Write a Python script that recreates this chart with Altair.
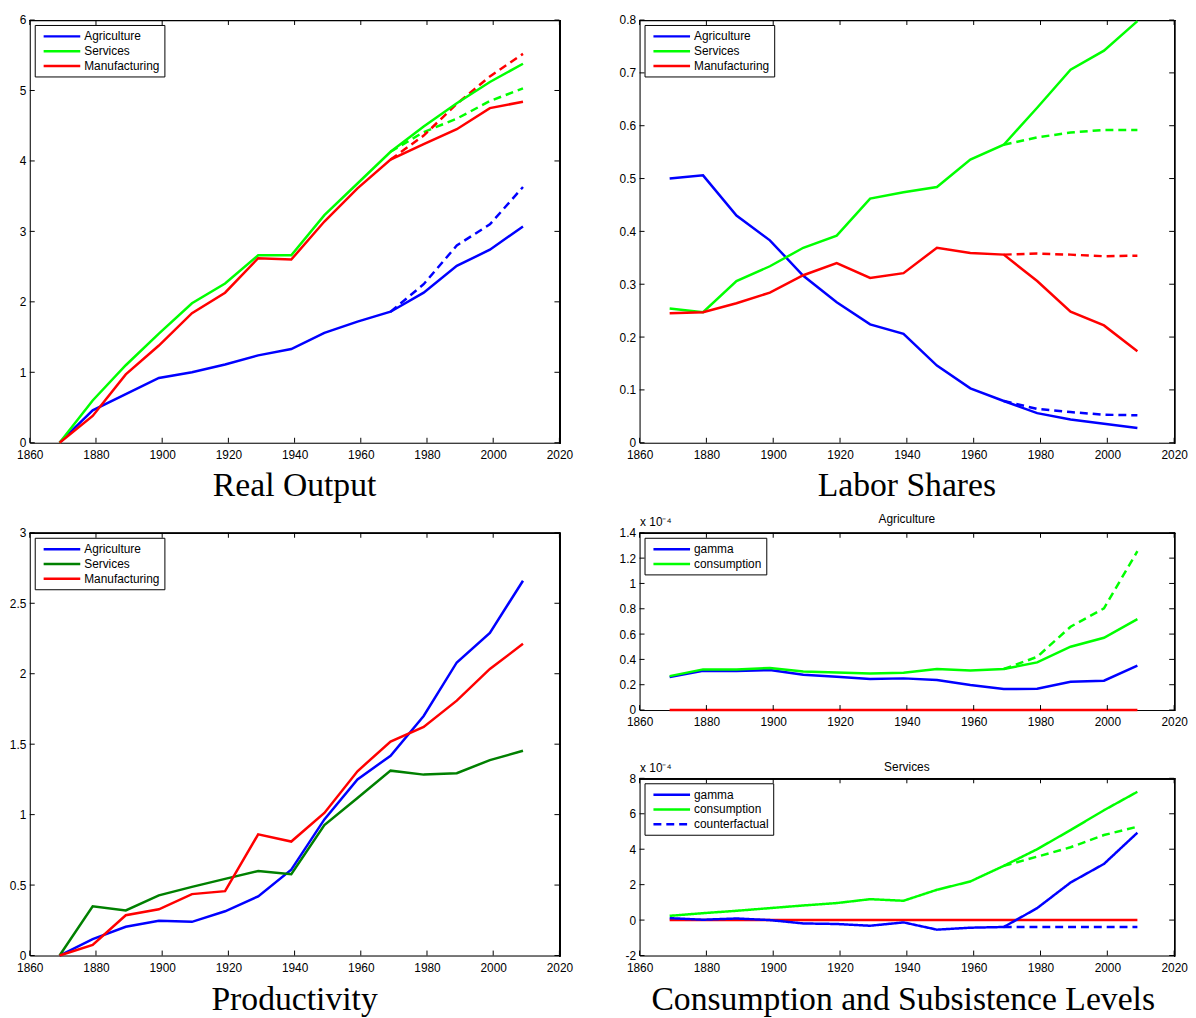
import altair as alt
import pandas as pd

# ---------------- data ----------------
years = [1869, 1879, 1889, 1899, 1909, 1919, 1929, 1939, 1949, 1959, 1969, 1979, 1989, 1999, 2009]
cf_years = [1969, 1979, 1989, 1999, 2009]
sectors = ["Agriculture", "Services", "Manufacturing"]

# Real Output
ro_agr = [0, 0.46, 0.69, 0.92, 1.00, 1.11, 1.24, 1.33, 1.56, 1.72, 1.86, 2.13, 2.51, 2.74, 3.07]
ro_ser = [0, 0.60, 1.10, 1.55, 1.98, 2.26, 2.66, 2.66, 3.23, 3.68, 4.13, 4.49, 4.82, 5.12, 5.38]
ro_man = [0, 0.38, 0.97, 1.38, 1.84, 2.13, 2.62, 2.60, 3.14, 3.61, 4.02, 4.24, 4.45, 4.75, 4.84]
ro_agr_cf = [1.86, 2.25, 2.80, 3.10, 3.63]
ro_ser_cf = [4.13, 4.41, 4.60, 4.85, 5.03]
ro_man_cf = [4.02, 4.36, 4.81, 5.20, 5.52]

# Labor Shares
ls_agr = [0.500, 0.506, 0.430, 0.383, 0.316, 0.266, 0.224, 0.206, 0.146, 0.103, 0.079, 0.056, 0.044, 0.036, 0.028]
ls_ser = [0.254, 0.247, 0.306, 0.334, 0.369, 0.392, 0.462, 0.474, 0.484, 0.536, 0.564, 0.634, 0.706, 0.742, 0.798]
ls_man = [0.245, 0.247, 0.264, 0.284, 0.317, 0.340, 0.312, 0.321, 0.369, 0.359, 0.356, 0.306, 0.248, 0.222, 0.173]
ls_agr_cf = [0.079, 0.064, 0.058, 0.053, 0.052]
ls_ser_cf = [0.564, 0.578, 0.587, 0.592, 0.592]
ls_man_cf = [0.356, 0.358, 0.356, 0.353, 0.354]

# Productivity
pr_agr = [0, 0.117, 0.204, 0.246, 0.239, 0.314, 0.420, 0.609, 0.966, 1.250, 1.418, 1.700, 2.080, 2.290, 2.660]
pr_ser = [0, 0.350, 0.320, 0.427, 0.487, 0.544, 0.600, 0.577, 0.926, 1.118, 1.312, 1.284, 1.294, 1.387, 1.453]
pr_man = [0, 0.075, 0.286, 0.328, 0.436, 0.457, 0.860, 0.809, 1.012, 1.308, 1.519, 1.622, 1.809, 2.034, 2.212]

# Consumption and subsistence levels (x 10^-4)
cs_names = ["gamma", "consumption", "counterfactual"]
ag_gamma = [0.260, 0.310, 0.308, 0.316, 0.279, 0.263, 0.245, 0.250, 0.237, 0.197, 0.166, 0.168, 0.224, 0.232, 0.350]
ag_cons = [0.268, 0.321, 0.321, 0.332, 0.305, 0.297, 0.289, 0.295, 0.324, 0.313, 0.324, 0.376, 0.500, 0.571, 0.718]
ag_cons_cf = [0.324, 0.420, 0.658, 0.803, 1.255]
ag_zero = [0, 0, 0, 0, 0, 0, 0, 0, 0, 0, 0, 0, 0, 0, 0]

sv_gamma = [0.11, 0.02, 0.09, 0.00, -0.19, -0.22, -0.32, -0.13, -0.54, -0.43, -0.39, 0.675, 2.12, 3.17, 4.93]
sv_cons = [0.24, 0.39, 0.525, 0.675, 0.825, 0.96, 1.18, 1.09, 1.71, 2.18, 3.06, 4.00, 5.08, 6.20, 7.24]
sv_gamma_cf = [-0.39, -0.39, -0.39, -0.39, -0.39]
sv_cons_cf = [3.06, 3.58, 4.11, 4.80, 5.27]
sv_zero = [0, 0, 0, 0, 0, 0, 0, 0, 0, 0, 0, 0, 0, 0, 0]

x_ticks = [1860, 1880, 1900, 1920, 1940, 1960, 1980, 2000, 2020]
ro_ticks = [0, 1, 2, 3, 4, 5, 6]
ls_ticks = [0, 0.1, 0.2, 0.3, 0.4, 0.5, 0.6, 0.7, 0.8]
pr_ticks = [0, 0.5, 1, 1.5, 2, 2.5, 3]
ag_ticks = [0, 0.2, 0.4, 0.6, 0.8, 1, 1.2, 1.4]
sv_ticks = [-2, 0, 2, 4, 6, 8]

# ---------------- styling ----------------
BLUE, GREEN, RED, DKGREEN = "#0000ff", "#00ff00", "#ff0000", "#008000"
FONT, SERIF = "Liberation Sans", "Liberation Serif"
LW = 2.5
DASH = [8, 5]
TICK = 5


def long_df(names, series, yrs):
    rows = []
    for n, s in zip(names, series):
        for yr, v in zip(yrs, s):
            rows.append({"year": yr, "value": v, "series": n})
    return pd.DataFrame(rows)


def make_panel(w, h, ydom, yticks, main_df, names, colors, dashes, extras,
               ytitle=None, title=None):
    xs = alt.Scale(domain=[1860, 2020], nice=False, zero=False)
    ys = alt.Scale(domain=ydom, nice=False, zero=False)
    common = dict(ticks=False, domain=True, domainColor="black", domainWidth=1,
                  grid=False, labelFontSize=12, labelFont=FONT,
                  labelColor="black", labelFlush=False)
    xaxis = alt.Axis(values=x_ticks, format="d", title=None, labelPadding=7, **common)
    yargs = dict(values=yticks, labelExpr="'' + datum.value", labelPadding=4, **common)
    if ytitle:
        yaxis = alt.Axis(title=ytitle, titleAngle=0, titleAlign="left", titleBaseline="bottom",
                         titleX=0, titleY=-4, titleFontSize=12, titleFont=FONT,
                         titleFontWeight="normal", titleColor="black", **yargs)
    else:
        yaxis = alt.Axis(title=None, **yargs)

    X = alt.X("year:Q", scale=xs, axis=xaxis)
    Y = alt.Y("value:Q", scale=ys, axis=yaxis)

    legend = alt.Legend(title=None, orient="top-left", offset=5, padding=4,
                        strokeColor="black", fillColor="white", cornerRadius=0,
                        symbolType="M-3,0L3,0", symbolSize=152, symbolStrokeWidth=2.5,
                        symbolOffset=16, labelFontSize=12, labelFont=FONT,
                        labelColor="black", labelOffset=15, rowPadding=1)
    enc = dict(
        x=X, y=Y,
        color=alt.Color("series:N", scale=alt.Scale(domain=names, range=colors), legend=legend),
    )
    if dashes is not None:
        enc["strokeDash"] = alt.StrokeDash("series:N", scale=alt.Scale(domain=names, range=dashes),
                                           legend=legend)
    # frame: top and right edges (left/bottom come from the axis domains)
    frame = dict(color="black", strokeWidth=1)
    xt = pd.DataFrame({"year": x_ticks})
    yt = pd.DataFrame({"value": yticks})
    layers = [
        alt.Chart(xt).mark_rule(**frame).encode(x=alt.value(0), x2=alt.value(w + 1),
                                                 y=alt.value(0.5)),
        alt.Chart(xt).mark_rule(**frame).encode(x=alt.value(w + 0.5), y=alt.value(0),
                                                 y2=alt.value(h + 1)),
    ]
    for df, col, dash in extras:
        mk = {"strokeWidth": LW, "color": col}
        if dash:
            mk["strokeDash"] = DASH
        layers.append(alt.Chart(df).mark_line(**mk).encode(x=X, y=Y))
    layers.append(alt.Chart(main_df).mark_line(strokeWidth=LW).encode(**enc))

    # inward tick marks on all four sides
    tk = dict(color="black", strokeWidth=1)
    layers += [
        alt.Chart(xt).mark_rule(**tk).encode(x=X, y=alt.value(h), y2=alt.value(h - TICK)),
        alt.Chart(xt).mark_rule(**tk).encode(x=X, y=alt.value(0), y2=alt.value(TICK)),
        alt.Chart(yt).mark_rule(**tk).encode(y=Y, x=alt.value(0), x2=alt.value(TICK)),
        alt.Chart(yt).mark_rule(**tk).encode(y=Y, x=alt.value(w), x2=alt.value(w - TICK)),
    ]
    props = dict(width=w, height=h)
    if title is not None:
        props["title"] = title
    return alt.layer(*layers).properties(**props)


def big_title(text, off):
    return alt.TitleParams(text, orient="bottom", font=SERIF, fontSize=34, fontWeight="normal",
                           color="black", offset=off, anchor="middle")


def small_title(text, off):
    return alt.TitleParams(text, orient="top", font=FONT, fontSize=12, fontWeight="normal",
                           color="black", offset=off, anchor="middle")


def indep(c):
    return c.resolve_scale(color="independent", strokeDash="independent").resolve_legend(
        color="independent", strokeDash="independent")


W1, W2, H = 535, 540, 427
HS = 179

# Real Output
ro_main = long_df(sectors, [ro_agr, ro_ser, ro_man], years)
ro = make_panel(W1, H, [0, 6], ro_ticks, ro_main, sectors, [BLUE, GREEN, RED], None,
                [(long_df(["a"], [ro_agr_cf], cf_years), BLUE, True),
                 (long_df(["s"], [ro_ser_cf], cf_years), GREEN, True),
                 (long_df(["m"], [ro_man_cf], cf_years), RED, True)],
                title=big_title("Real Output", 9))

# Labor Shares
ls_main = long_df(sectors, [ls_agr, ls_ser, ls_man], years)
ls = make_panel(W2, H, [0, 0.8], ls_ticks, ls_main, sectors, [BLUE, GREEN, RED], None,
                [(long_df(["a"], [ls_agr_cf], cf_years), BLUE, True),
                 (long_df(["s"], [ls_ser_cf], cf_years), GREEN, True),
                 (long_df(["m"], [ls_man_cf], cf_years), RED, True)],
                title=big_title("Labor Shares", 9))

# Productivity
pr_main = long_df(sectors, [pr_agr, pr_ser, pr_man], years)
pr = make_panel(W1, H, [0, 3], pr_ticks, pr_main, sectors, [BLUE, DKGREEN, RED], None, [],
                title=big_title("Productivity", 10))

# Agriculture subsistence
ag_main = long_df(cs_names[:2], [ag_gamma, ag_cons], years)
ag = make_panel(W2, HS, [0, 1.4], ag_ticks, ag_main, cs_names[:2], [BLUE, GREEN], None,
                [(long_df(["c"], [ag_cons_cf], cf_years), GREEN, True),
                 (long_df(["z"], [ag_zero], years), RED, False)],
                ytitle="x 10⁻⁴", title=small_title("Agriculture", -10))

# Services subsistence
sv_main = pd.concat([long_df(cs_names[:2], [sv_gamma, sv_cons], years),
                     long_df(cs_names[2:], [sv_gamma_cf], cf_years)], ignore_index=True)
sv = make_panel(W2, HS, [-2, 8], sv_ticks, sv_main, cs_names, [BLUE, GREEN, BLUE],
                [[1, 0], [1, 0], DASH],
                [(long_df(["z"], [sv_zero], years), RED, False),
                 (long_df(["c"], [sv_cons_cf], cf_years), GREEN, True)],
                ytitle="x 10⁻⁴", title=small_title("Services", -13))

cs = indep(alt.vconcat(ag, sv, spacing=69, bounds="flush",
                       title=big_title("Consumption and Subsistence Levels", 10)))

left_col = indep(alt.vconcat(ro, pr, spacing=91, bounds="flush"))
right_col = indep(alt.vconcat(ls, cs, spacing=91, bounds="flush"))

chart = indep(alt.hconcat(left_col, right_col, spacing=45)).properties(
    padding={"left": 0, "top": 0, "right": 0, "bottom": 0}
).configure_view(
    stroke=None
).configure(background="white")

chart.save("out.html", embed_options={"renderer": "svg", "actions": False})
